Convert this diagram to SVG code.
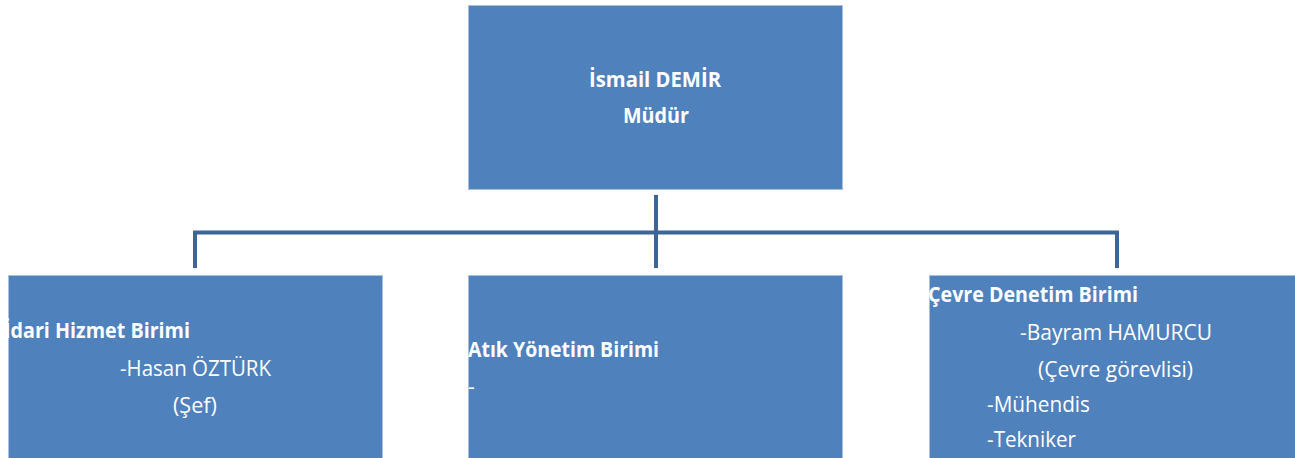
<svg xmlns="http://www.w3.org/2000/svg" width="1295" height="458" viewBox="0 0 1295 458">
<style>
.box{fill:#4F81BD;stroke:#A9C0DF;stroke-width:1}
.t{font-family:"Open Sans","Liberation Sans",sans-serif;font-size:21px;fill:#FFFFFF}
.b{font-weight:bold}
.conn{fill:none;stroke:#3D6596;stroke-width:4;stroke-linecap:butt}
</style>
<defs>
<clipPath id="cl"><rect x="8" y="275" width="375" height="183"/></clipPath>
</defs>
<rect width="1295" height="458" fill="#FFFFFF"/>
<g id="connectors">
<path class="conn" d="M656,195 V268"/>
<path class="conn" stroke-width="5" d="M193,232.5 H1119"/>
<path class="conn" d="M195,232 V268"/>
<path class="conn" d="M1117,232 V268"/>
</g>
<g id="mudur">
<rect class="box" x="468.5" y="5.5" width="374" height="184"/>
<text class="t b" x="589" y="87" textLength="132" lengthAdjust="spacingAndGlyphs">İsmail DEMİR</text>
<text class="t b" x="623" y="123" textLength="66" lengthAdjust="spacingAndGlyphs">Müdür</text>
</g>
<g id="idari">
<rect class="box" x="8.5" y="275.5" width="374" height="190"/>
<g clip-path="url(#cl)">
<text class="t b" x="4" y="338" textLength="186" lengthAdjust="spacingAndGlyphs">İdari Hizmet Birimi</text>
</g>
<text class="t" x="120" y="376" textLength="151" lengthAdjust="spacingAndGlyphs">-Hasan ÖZTÜRK</text>
<text class="t" x="173" y="413" textLength="44" lengthAdjust="spacingAndGlyphs">(Şef)</text>
</g>
<g id="atik">
<rect class="box" x="468.5" y="275.5" width="374" height="190"/>
<text class="t b" x="468" y="357" textLength="191" lengthAdjust="spacingAndGlyphs">Atık Yönetim Birimi</text>
<text class="t" x="468" y="394">-</text>
</g>
<g id="cevre">
<rect class="box" x="929.5" y="275.5" width="370" height="190"/>
<text class="t b" x="928" y="302" textLength="210" lengthAdjust="spacingAndGlyphs">Çevre Denetim Birimi</text>
<text class="t" x="1020" y="340" textLength="192" lengthAdjust="spacingAndGlyphs">-Bayram HAMURCU</text>
<text class="t" x="1038" y="377" textLength="155" lengthAdjust="spacingAndGlyphs">(Çevre görevlisi)</text>
<text class="t" x="987" y="412" textLength="103" lengthAdjust="spacingAndGlyphs">-Mühendis</text>
<text class="t" x="987" y="447" textLength="89" lengthAdjust="spacingAndGlyphs">-Tekniker</text>
</g>
</svg>
